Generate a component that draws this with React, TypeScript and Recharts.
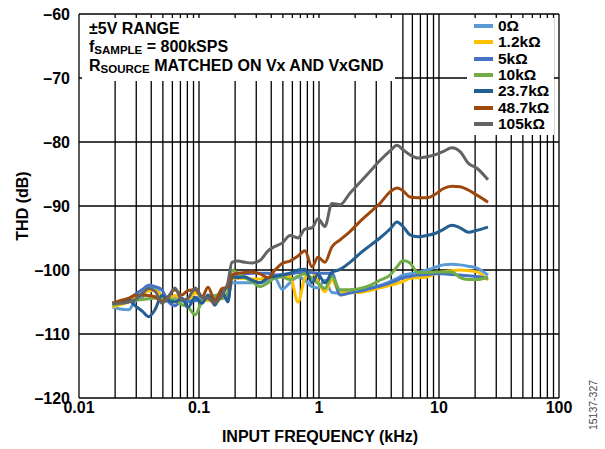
import React from 'react';
import { LineChart, Line, XAxis, YAxis, CartesianGrid, Legend } from 'recharts';

// input frequency (kHz), shared by every curve
const FREQ_KHZ = [
  0.019, 0.022, 0.026, 0.029, 0.034, 0.038, 0.043, 0.049, 0.055, 0.063, 0.072, 0.081, 0.093,
  0.106, 0.119, 0.136, 0.155, 0.174, 0.188, 0.211, 0.242, 0.276, 0.322, 0.376, 0.43, 0.492,
  0.573, 0.668, 0.764, 0.874, 0.981, 1.12, 1.28, 1.5, 1.81, 2.2, 2.66, 3.22, 3.91, 4.47, 5.01,
  5.73, 6.68, 7.94, 9.26, 10.8, 12.8, 15, 17.5, 20.7, 25.6,
];

// THD (dB) per source resistance
const THD_0R = [
  -105.8, -106.1, -106.2, -105.0, -104.2, -102.8, -102.7, -104.2, -104.9, -104.2, -104.8, -105.0, -104.4,
  -104.2, -104.6, -104.0, -103.8, -104.0, -102.0, -102.0, -102.0, -102.0, -102.0, -101.6, -101.3, -103.0,
  -102.0, -101.1, -101.6, -102.6, -102.8, -101.6, -103.5, -103.6, -103.2, -103.0, -102.8, -102.4, -101.8, -101.3, -100.8,
  -100.6, -100.4, -100.0, -99.6, -99.2, -99.1, -99.2, -99.4, -99.7, -100.8,
];
const THD_1K2 = [
  -105.8, -105.4, -105.0, -104.5, -103.6, -103.3, -103.2, -104.0, -104.6, -104.0, -104.6, -104.6, -103.6,
  -104.2, -104.8, -104.2, -103.8, -104.4, -101.3, -101.3, -101.3, -101.4, -101.4, -101.2, -101.0, -101.0,
  -101.0, -105.0, -101.2, -100.3, -101.8, -103.4, -101.6, -103.6, -103.5, -103.5, -103.2, -102.8, -102.4, -102.1, -101.8,
  -101.3, -101.2, -101.1, -100.6, -100.3, -100.1, -100.0, -100.1, -100.3, -101.6,
];
const THD_5K = [
  -105.5, -105.0, -104.5, -103.9, -103.0, -102.4, -102.6, -103.1, -104.8, -105.6, -104.7, -104.9, -104.8,
  -104.7, -104.2, -104.5, -104.0, -104.6, -101.1, -100.9, -100.6, -100.5, -100.5, -100.5, -100.8, -100.7,
  -100.6, -100.4, -100.3, -100.4, -100.5, -100.5, -100.5, -103.9, -103.6, -103.3, -102.9, -102.5, -102.0, -101.6, -101.2,
  -101.0, -100.8, -100.7, -100.6, -100.6, -100.7, -100.8, -100.9, -101.0, -101.3,
];
const THD_10K = [
  -105.5, -105.2, -104.9, -104.7, -104.6, -104.5, -104.4, -104.4, -104.5, -104.7, -105.4, -105.8, -107.0,
  -104.9, -104.4, -104.0, -104.5, -103.5, -100.0, -100.5, -101.2, -101.8, -102.6, -102.0, -101.2, -101.1,
  -101.5, -101.0, -100.6, -101.3, -102.1, -102.9, -101.0, -103.1, -103.1, -102.9, -102.4, -101.6, -100.8, -99.5, -98.5,
  -98.9, -100.4, -100.4, -100.3, -100.3, -100.3, -101.2, -101.5, -101.5, -101.1,
];
const THD_23K7 = [
  -105.2, -105.0, -104.7, -105.5, -106.5, -107.3, -106.2, -104.0, -104.7, -105.0, -104.4, -105.8, -104.3,
  -105.2, -103.9, -105.5, -103.3, -105.0, -101.1, -101.2, -101.1, -101.6, -102.0, -101.2, -101.0, -100.8,
  -100.5, -100.0, -99.9, -102.0, -100.7, -102.0, -100.4, -99.9, -98.8, -97.4, -96.2, -95.0, -93.6, -92.5, -93.2,
  -94.5, -94.8, -94.6, -94.3, -93.7, -93.0, -93.4, -94.1, -93.8, -93.3,
];
const THD_48K7 = [
  -105.2, -104.8, -104.4, -104.0, -103.9, -104.0, -104.2, -104.9, -104.2, -103.1, -103.9, -103.2, -103.1,
  -104.2, -102.7, -104.9, -102.9, -102.7, -100.8, -100.5, -100.4, -100.3, -100.6, -101.2, -100.0, -99.0,
  -98.6, -97.8, -97.0, -99.5, -98.0, -98.8, -96.4, -95.3, -94.0, -92.4, -91.0, -89.6, -87.8, -87.2, -87.6,
  -88.6, -88.7, -88.7, -88.2, -87.3, -86.9, -87.0, -87.5, -88.3, -89.4,
];
const THD_105K = [
  -105.2, -105.2, -105.0, -104.7, -103.6, -102.9, -103.3, -105.2, -104.4, -102.8, -104.7, -104.4, -102.8,
  -104.2, -104.4, -105.2, -104.0, -102.0, -98.8, -98.6, -98.8, -98.9, -98.5, -97.0, -96.3, -95.8,
  -94.6, -95.0, -93.6, -93.4, -92.0, -93.2, -89.6, -89.8, -88.0, -86.3, -84.6, -82.9, -81.4, -80.5, -81.2,
  -82.0, -82.5, -82.3, -82.0, -81.5, -80.9, -81.5, -83.3, -84.1, -85.9,
];

const SERIES = [
  { key: 'r0', name: '0Ω', color: '#5B9BD5', values: THD_0R },
  { key: 'r1k2', name: '1.2kΩ', color: '#FFC000', values: THD_1K2 },
  { key: 'r5k', name: '5kΩ', color: '#4472C4', values: THD_5K },
  { key: 'r10k', name: '10kΩ', color: '#70AD47', values: THD_10K },
  { key: 'r23k7', name: '23.7kΩ', color: '#255E91', values: THD_23K7 },
  { key: 'r48k7', name: '48.7kΩ', color: '#9E480E', values: THD_48K7 },
  { key: 'r105k', name: '105kΩ', color: '#636363', values: THD_105K },
];

const X_TICKS = [
  0.01, 0.02, 0.03, 0.04, 0.05, 0.06, 0.07, 0.08, 0.09,
  0.1, 0.2, 0.3, 0.4, 0.5, 0.6, 0.7, 0.8, 0.9,
  1, 2, 3, 4, 5, 6, 7, 8, 9,
  10, 20, 30, 40, 50, 60, 70, 80, 90, 100,
];
const X_LABELS = [0.01, 0.1, 1, 10, 100];
const Y_TICKS = [-120, -110, -100, -90, -80, -70, -60];

const FONT = '"Liberation Sans", Arial, Helvetica, sans-serif';

const data = FREQ_KHZ.map((f, i) => {
  const row: Record<string, number> = { f };
  SERIES.forEach((s) => {
    row[s.key] = s.values[i];
  });
  return row;
});

// legend keeps the series order (recharts sorts payload by name otherwise)
const LegendBox = () => (
  <div style={{ background: '#fff', width: 87, height: 117, fontFamily: FONT, fontWeight: 'bold', fontSize: 15.5, color: '#000' }}>
    {SERIES.map((s) => (
      <div key={s.key} style={{ display: 'flex', alignItems: 'center', height: 16.3 }}>
        <span style={{ display: 'inline-block', width: 19, height: 4, background: s.color, marginLeft: 7, marginRight: 5 }} />
        <span style={{ lineHeight: '16px', whiteSpace: 'nowrap' }}>{s.name}</span>
      </div>
    ))}
  </div>
);

const sub = { fontSize: 11.5, verticalAlign: '-2px' };
const lineStyle = { position: 'absolute' as const, left: 7, lineHeight: '17px', whiteSpace: 'nowrap' as const };

const App = () => {
  return (
    <div style={{ position: 'fixed', left: 0, top: 0, width: 605, height: 449, background: '#fff', fontFamily: FONT }}>
      <LineChart width={605} height={449} data={data} margin={{ top: 14, right: 46, bottom: 5, left: 19 }}>
        <CartesianGrid stroke="#000" strokeWidth={1.3} />
        <XAxis
          dataKey="f"
          type="number"
          scale="log"
          domain={[0.01, 100]}
          ticks={X_TICKS}
          allowDataOverflow
          interval={0}
          height={46}
          axisLine={false}
          tickLine={false}
          tickSize={3}
          tickMargin={1}
          tick={{ fill: '#000', fontSize: 16, fontWeight: 'bold', fontFamily: FONT }}
          tickFormatter={(v: number) => (X_LABELS.includes(v) ? String(v) : '')}
        />
        <YAxis
          type="number"
          domain={[-120, -60]}
          ticks={Y_TICKS}
          interval={0}
          width={60}
          axisLine={false}
          tickLine={false}
          tickSize={8}
          tickMargin={1}
          tick={{ fill: '#000', fontSize: 16, fontWeight: 'bold', fontFamily: FONT }}
          tickFormatter={(v: number) => (v < 0 ? '\u2013' + Math.abs(v) : String(v))}
        />
        <Legend
          layout="vertical"
          align="center"
          verticalAlign="middle"
          content={<LegendBox />}
          wrapperStyle={{ position: 'absolute', left: 467, top: 18, width: 87, height: 117 }}
        />
        {SERIES.map((s) => (
          <Line
            key={s.key}
            dataKey={s.key}
            name={s.name}
            stroke={s.color}
            strokeWidth={3}
            type="monotone"
            dot={false}
            activeDot={false}
            isAnimationActive={false}
          />
        ))}
      </LineChart>

      <div style={{ position: 'absolute', left: 82, top: 18, width: 313, height: 63, background: '#fff', fontWeight: 'bold', fontSize: 16, color: '#000' }}>
        <div style={{ ...lineStyle, top: 1.5 }}>±5V RANGE</div>
        <div style={{ ...lineStyle, top: 20 }}>
          f<span style={sub}>SAMPLE</span> = 800kSPS
        </div>
        <div style={{ ...lineStyle, top: 38.5 }}>
          R<span style={sub}>SOURCE</span> MATCHED ON Vx AND VxGND
        </div>
      </div>

      <div style={{ position: 'absolute', left: 23, top: 206, transform: 'translate(-50%, -50%) rotate(-90deg)', fontWeight: 'bold', fontSize: 16, whiteSpace: 'nowrap' }}>
        THD (dB)
      </div>
      <div style={{ position: 'absolute', left: 320, top: 437, transform: 'translate(-50%, -50%)', fontWeight: 'bold', fontSize: 16, whiteSpace: 'nowrap' }}>
        INPUT FREQUENCY (kHz)
      </div>
      <div style={{ position: 'absolute', left: 593, top: 405, transform: 'translate(-50%, -50%) rotate(-90deg)', fontSize: 10.5, color: '#444', whiteSpace: 'nowrap' }}>
        15137-327
      </div>
    </div>
  );
};

export default App;
